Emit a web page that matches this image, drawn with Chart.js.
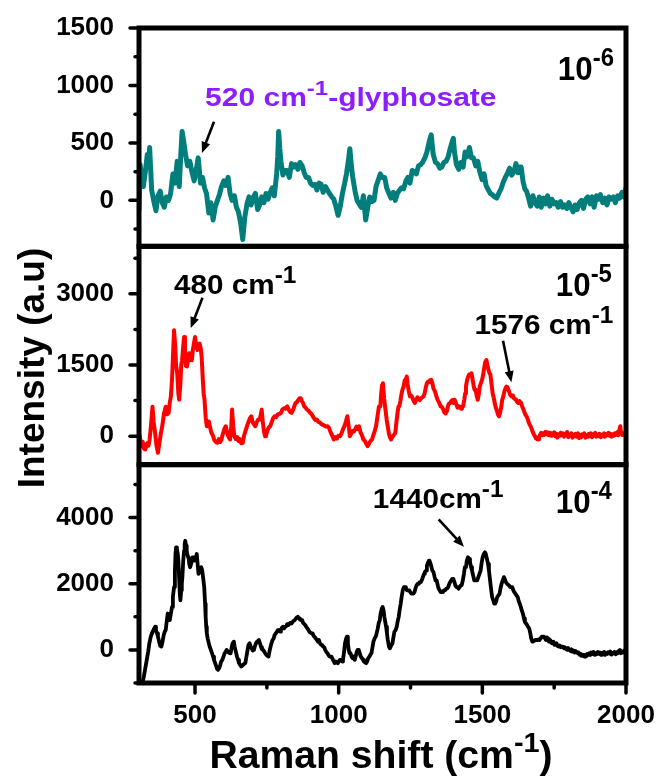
<!DOCTYPE html>
<html>
<head>
<meta charset="utf-8">
<script src="https://cdn.jsdelivr.net/npm/chart.js@4.4.1/dist/chart.umd.min.js"></script>
<style>
  html, body { margin: 0; padding: 0; background: #fff; }
  #wrap { width: 661px; height: 778px; }
</style>
</head>
<body>
<div id="wrap"><canvas id="raman" width="661" height="778"></canvas></div>
<script>
const FONT = '"Liberation Sans", Arial, sans-serif';
const TEAL = '#017e7b';
const RED = '#ff0000';
const PURPLE = '#8b1dff';

// axis ticks (minor ticks carry no label)
const xTicks = [500, 750, 1000, 1250, 1500, 1750, 2000];
const xLabels = [500, 1000, 1500, 2000];
const topTicks = [-250, 0, 250, 500, 750, 1000, 1250, 1500];
const topLabels = [0, 500, 1000, 1500];
const midTicks = [0, 750, 1500, 2250, 3000, 3750];
const midLabels = [0, 1500, 3000];
const botTicks = [-1000, 0, 1000, 2000, 3000, 4000, 5000];
const botLabels = [0, 2000, 4000];

// spectra, [Raman shift (cm-1), intensity (a.u)]
const spec6 = [
  [305, -90], [309, 310], [314, 200], [320, 120], [327, 250], [334, 400], [339, 320], [342, 460],
  [346, 250], [349, 90], [356, 0], [364, -90], [371, 40], [379, 80], [386, -20], [393, -60],
  [400, 30], [408, 0], [415, 60], [423, 230], [430, 150], [438, 340], [445, 120], [451, 420],
  [455, 600], [460, 520], [467, 400], [474, 300], [482, 340], [489, 250], [497, 170], [504, 260],
  [511, 370], [519, 150], [526, 200], [533, 110], [540, 60], [548, -110], [555, -20], [563, -170],
  [570, -60], [578, 0], [585, 50], [592, 120], [600, 170], [607, 130], [615, 200], [622, 60],
  [629, 0], [637, 40], [644, -60], [651, -100], [659, -200], [666, -340], [673, -150], [681, -30],
  [688, 30], [695, -40], [703, 30], [710, 60], [718, -80], [725, -40], [732, 30], [740, -20],
  [747, 60], [754, 10], [762, 70], [769, 110], [776, 40], [784, 230], [788, 380], [791, 600],
  [795, 450], [799, 340], [806, 220], [813, 260], [821, 260], [828, 200], [836, 320], [843, 290],
  [850, 310], [858, 270], [865, 330], [873, 300], [880, 240], [887, 200], [895, 200], [902, 150],
  [910, 130], [917, 140], [924, 90], [932, 150], [939, 140], [946, 70], [954, 120], [961, 90],
  [968, 60], [976, 30], [983, 10], [990, -50], [998, -130], [1005, -60], [1013, 60], [1020, 140],
  [1027, 230], [1033, 330], [1039, 450], [1044, 300], [1049, 200], [1057, 80], [1064, 0], [1071, -30],
  [1079, -60], [1086, 40], [1094, -170], [1101, -60], [1108, 30], [1116, -10], [1123, 0], [1130, 120],
  [1138, 180], [1145, 230], [1152, 200], [1160, 200], [1167, 110], [1175, 60], [1182, 20], [1190, 70],
  [1197, 0], [1204, 60], [1212, 90], [1219, 110], [1226, 100], [1234, 170], [1241, 200], [1248, 150],
  [1256, 260], [1263, 250], [1270, 230], [1278, 300], [1285, 310], [1292, 330], [1300, 370], [1307, 420],
  [1315, 510], [1322, 570], [1329, 400], [1337, 330], [1344, 320], [1352, 280], [1359, 290], [1366, 330],
  [1374, 340], [1381, 380], [1388, 450], [1395, 510], [1399, 540], [1403, 420], [1410, 310], [1418, 270],
  [1425, 330], [1433, 290], [1440, 420], [1447, 380], [1455, 460], [1462, 370], [1469, 370], [1477, 300],
  [1484, 340], [1491, 250], [1499, 180], [1506, 230], [1513, 130], [1521, 90], [1528, 60], [1535, 50],
  [1543, 30], [1550, 20], [1557, 60], [1565, 100], [1573, 160], [1580, 200], [1588, 240], [1595, 280],
  [1602, 220], [1610, 250], [1617, 320], [1624, 240], [1630, 290], [1635, 290], [1642, 160], [1648, 100],
  [1654, 80], [1661, 20], [1668, -50], [1676, 40], [1683, -20], [1691, -50], [1698, 30], [1705, -60],
  [1713, 20], [1720, -30], [1727, 40], [1735, -50], [1742, 10], [1750, -30], [1757, -20], [1764, -60],
  [1772, -10], [1779, -60], [1786, -40], [1794, -70], [1801, -20], [1808, -60], [1816, -100], [1823, -40],
  [1830, -80], [1838, -20], [1845, 0], [1852, -70], [1860, 10], [1867, 30], [1875, -30], [1882, 30],
  [1889, -60], [1897, 40], [1904, 10], [1911, 50], [1919, -20], [1926, 20], [1934, -40], [1941, 30],
  [1948, 10], [1956, 30], [1963, -20], [1971, 40], [1978, 20], [1986, 70], [1993, 30], [2000, 110]
];

const spec5 = [
  [305, 70], [309, -60], [312, -210], [318, -120], [322, -260], [327, -280], [333, -150], [338, -200],
  [342, -70], [347, 250], [352, 620], [356, 300], [361, 70], [366, -200], [371, -350], [376, -150],
  [381, 60], [386, 210], [392, 480], [398, 620], [403, 460], [408, 490], [412, 700], [416, 840],
  [420, 1200], [424, 1800], [427, 2230], [431, 1900], [434, 1500], [438, 1330], [442, 900], [445, 770],
  [449, 1100], [452, 1500], [455, 1600], [459, 1900], [462, 2090], [465, 1800], [468, 1480], [472, 1470],
  [476, 1600], [479, 1750], [482, 1745], [486, 1620], [489, 1600], [492, 1800], [496, 1950], [500, 2090],
  [504, 1900], [508, 1815], [512, 1900], [516, 1950], [520, 1850], [523, 1675], [527, 1200], [530, 900],
  [533, 770], [537, 400], [541, 210], [545, 250], [548, 310], [552, 200], [556, 90], [563, 0],
  [567, -80], [572, -120], [578, -140], [583, -60], [588, -120], [592, -70], [597, 50], [602, 150],
  [607, 210], [612, 60], [617, -20], [622, -70], [626, 200], [629, 560], [633, 200], [637, 0],
  [642, -60], [647, -20], [651, -100], [656, -60], [661, -150], [666, -140], [671, 20], [676, 120],
  [681, 210], [686, 300], [691, 380], [696, 420], [700, 300], [705, 250], [710, 210], [715, 300],
  [720, 350], [725, 350], [729, 450], [732, 560], [736, 300], [740, 100], [744, 0], [747, 20],
  [751, 100], [756, 180], [762, 210], [767, 300], [772, 380], [777, 420], [782, 400], [788, 460],
  [793, 470], [799, 490], [804, 560], [810, 590], [815, 580], [821, 630], [826, 560], [831, 510],
  [836, 490], [841, 550], [846, 640], [850, 700], [855, 720], [859, 760], [864, 800], [868, 800],
  [872, 740], [876, 700], [880, 630], [885, 600], [890, 560], [895, 540], [899, 500], [904, 480],
  [909, 430], [914, 380], [919, 340], [924, 350], [929, 300], [934, 290], [939, 260], [943, 240],
  [946, 240], [951, 220], [956, 200], [961, 210], [966, 180], [972, 80], [977, 20], [983, -70],
  [988, -20], [994, -50], [999, 10], [1005, 0], [1010, 60], [1015, 150], [1020, 210], [1025, 310],
  [1030, 420], [1034, 250], [1039, 0], [1044, 60], [1048, 110], [1053, 100], [1057, 140], [1062, 200],
  [1066, 150], [1071, 210], [1076, 80], [1081, 20], [1086, -70], [1091, -100], [1096, -160], [1101, -210],
  [1106, -150], [1111, -100], [1116, -70], [1121, 30], [1126, 120], [1130, 210], [1135, 420], [1140, 620],
  [1145, 630], [1148, 900], [1151, 1080], [1154, 1117], [1158, 800], [1162, 600], [1167, 350], [1171, 200],
  [1175, 50], [1179, -30], [1182, -70], [1186, -20], [1190, 10], [1194, 40], [1197, 70], [1201, 300],
  [1205, 500], [1208, 620], [1211, 630], [1215, 750], [1219, 900], [1222, 980], [1226, 1047], [1230, 1180],
  [1234, 1200], [1237, 1256], [1240, 1100], [1244, 950], [1248, 838], [1252, 860], [1256, 820], [1261, 740],
  [1265, 700], [1270, 768], [1274, 820], [1278, 790], [1282, 760], [1287, 800], [1291, 820], [1295, 838],
  [1299, 900], [1303, 1020], [1307, 1117], [1311, 1150], [1315, 1140], [1318, 1180], [1322, 1187], [1326, 1120],
  [1330, 1000], [1334, 960], [1337, 907], [1341, 820], [1345, 760], [1350, 700], [1355, 628], [1359, 620],
  [1364, 560], [1368, 500], [1372, 480], [1376, 520], [1379, 600], [1383, 680], [1388, 698], [1392, 740],
  [1396, 760], [1399, 700], [1403, 768], [1407, 720], [1410, 660], [1414, 600], [1418, 628], [1422, 620],
  [1426, 580], [1429, 600], [1433, 628], [1437, 760], [1440, 900], [1443, 1050], [1447, 1187], [1451, 1260],
  [1454, 1300], [1458, 1280], [1462, 1326], [1466, 1200], [1470, 1050], [1473, 977], [1477, 980], [1480, 860],
  [1484, 768], [1488, 900], [1491, 1050], [1495, 1120], [1499, 1187], [1503, 1300], [1506, 1420], [1510, 1560],
  [1514, 1605], [1518, 1500], [1521, 1400], [1525, 1326], [1528, 1300], [1532, 1100], [1536, 900], [1540, 800],
  [1543, 698], [1547, 600], [1551, 530], [1555, 450], [1558, 419], [1562, 500], [1566, 620], [1569, 760],
  [1573, 838], [1577, 950], [1580, 1000], [1584, 1047], [1587, 1030], [1591, 980], [1595, 900], [1598, 860],
  [1602, 838], [1606, 860], [1610, 800], [1614, 780], [1617, 768], [1621, 720], [1625, 700], [1629, 740],
  [1632, 720], [1635, 698], [1639, 620], [1643, 560], [1647, 500], [1650, 450], [1654, 419], [1658, 360],
  [1661, 300], [1665, 240], [1668, 209], [1672, 150], [1676, 80], [1679, 40], [1683, 0], [1686, -40],
  [1690, -60], [1694, -70], [1697, -20], [1701, 30], [1705, 70], [1709, 20], [1712, 60], [1716, 30],
  [1720, 90], [1724, 40], [1727, 80], [1731, 20], [1735, 70], [1739, 10], [1742, 60], [1746, 30],
  [1750, 80], [1754, 0], [1758, 50], [1761, -30], [1765, 40], [1769, 10], [1773, 70], [1777, 20],
  [1780, 60], [1784, -10], [1788, 50], [1792, 20], [1795, 90], [1799, -20], [1803, 40], [1807, 10],
  [1810, 60], [1814, -30], [1818, 30], [1822, 0], [1825, 50], [1829, -10], [1833, 60], [1837, -40],
  [1840, 30], [1844, -20], [1848, 40], [1852, 10], [1855, 60], [1859, -30], [1863, 20], [1867, -10],
  [1871, 50], [1874, 0], [1878, 60], [1882, -20], [1886, 40], [1890, 10], [1893, 70], [1897, -10],
  [1901, 30], [1905, 0], [1908, 50], [1912, -20], [1916, 30], [1920, 0], [1924, 60], [1927, -10],
  [1931, 40], [1935, 20], [1939, 70], [1942, 10], [1946, 50], [1950, -10], [1954, 40], [1957, 10],
  [1961, 60], [1965, 30], [1969, 80], [1973, 20], [1976, 110], [1980, 210], [1983, 60], [1987, 30],
  [1991, 60], [1995, 20], [2000, 50]
];

const spec4 = [
  [317, -1000], [322, -800], [327, -550], [332, -300], [337, -50], [341, 200], [346, 400], [350, 500],
  [354, 580], [358, 650], [361, 700], [364, 600], [368, 500], [371, 400], [375, 250], [379, 120],
  [383, 100], [387, 250], [391, 450], [395, 560], [398, 600], [402, 900], [405, 1100], [409, 1000],
  [412, 900], [416, 1100], [420, 1300], [423, 1600], [427, 1900], [430, 2400], [432, 2900], [434, 3100],
  [437, 3050], [440, 2900], [442, 2700], [445, 2100], [447, 1700], [449, 1500], [452, 1800], [454, 2000],
  [456, 2200], [459, 2700], [462, 3000], [464, 3200], [466, 3300], [469, 3150], [471, 3000], [473, 2900],
  [475, 2900], [478, 2750], [480, 2600], [483, 2500], [485, 2500], [488, 2650], [490, 2800], [493, 2800],
  [496, 2750], [499, 2700], [503, 2800], [506, 2900], [509, 2600], [512, 2300], [515, 2350], [518, 2400],
  [522, 2500], [525, 2400], [528, 2200], [532, 1900], [535, 1400], [537, 1000], [539, 700], [541, 500],
  [544, 350], [548, 200], [551, 100], [555, 0], [559, -100], [563, -200], [566, -300], [570, -400],
  [574, -500], [577, -580], [580, -600], [584, -550], [588, -450], [591, -350], [595, -300], [599, -200],
  [603, -100], [607, -50], [610, 0], [614, -50], [617, -80], [621, -100], [624, -100], [628, 100],
  [631, 200], [635, 250], [638, 100], [642, -50], [646, -200], [650, -300], [653, -400], [657, -450],
  [661, -500], [664, -480], [668, -450], [671, -420], [675, -400], [679, -200], [683, 0], [686, 150],
  [690, 200], [694, 100], [697, 50], [701, -20], [705, 0], [708, 100], [712, 200], [716, 250],
  [719, 280], [722, 300], [726, 200], [730, 80], [733, 20], [737, 0], [741, -50], [744, -100],
  [748, -150], [752, -180], [756, -200], [759, -50], [763, 100], [766, 200], [770, 300], [774, 350],
  [777, 450], [781, 500], [785, 550], [788, 600], [792, 600], [796, 550], [799, 620], [803, 680],
  [807, 700], [810, 650], [814, 700], [818, 720], [821, 780], [825, 750], [829, 800], [832, 820],
  [836, 800], [840, 850], [843, 880], [847, 900], [851, 950], [854, 980], [858, 1000], [862, 950],
  [865, 920], [869, 900], [873, 900], [876, 820], [880, 780], [884, 750], [887, 700], [891, 650],
  [895, 600], [898, 550], [902, 520], [906, 500], [909, 500], [913, 420], [917, 380], [920, 350],
  [924, 300], [928, 250], [931, 300], [935, 200], [939, 150], [942, 150], [946, 100], [950, 80],
  [953, 0], [957, -60], [961, -100], [964, -150], [968, -200], [972, -200], [975, -200], [979, -280],
  [983, -350], [986, -400], [990, -350], [994, -380], [997, -400], [1001, -350], [1004, -300], [1008, -300],
  [1012, -350], [1015, -300], [1019, -50], [1022, 200], [1026, 350], [1029, 400], [1032, 200], [1035, 0],
  [1038, -100], [1041, -100], [1045, -200], [1048, -250], [1052, -200], [1056, -300], [1059, -200], [1063, -50],
  [1066, 0], [1070, 0], [1073, -100], [1077, -200], [1081, -250], [1085, -300], [1088, -350], [1092, -380],
  [1096, -400], [1099, -350], [1103, -250], [1107, -200], [1110, -150], [1114, -100], [1118, 100], [1121, 250],
  [1125, 350], [1129, 400], [1132, 500], [1136, 650], [1139, 800], [1143, 900], [1146, 1100], [1150, 1250],
  [1153, 1300], [1156, 1200], [1159, 1000], [1162, 850], [1165, 700], [1168, 500], [1171, 300], [1175, 100],
  [1178, 50], [1181, 100], [1184, 150], [1187, 200], [1191, 400], [1194, 550], [1198, 600], [1202, 700],
  [1205, 850], [1209, 1000], [1212, 1200], [1216, 1400], [1219, 1600], [1223, 1800], [1227, 1900], [1231, 1900],
  [1234, 1850], [1238, 1800], [1242, 1800], [1246, 1800], [1249, 1750], [1253, 1700], [1256, 1700], [1260, 1700],
  [1264, 1750], [1267, 1850], [1271, 1950], [1275, 2000], [1279, 2000], [1282, 2050], [1286, 2050], [1289, 2100],
  [1293, 2200], [1297, 2300], [1300, 2350], [1304, 2400], [1307, 2550], [1311, 2650], [1314, 2700], [1316, 2700],
  [1320, 2600], [1323, 2500], [1326, 2400], [1330, 2350], [1334, 2200], [1337, 2100], [1341, 2100], [1345, 1950],
  [1348, 1850], [1352, 1800], [1355, 1750], [1359, 1750], [1363, 1750], [1366, 1800], [1370, 1800], [1374, 1850],
  [1377, 1850], [1381, 1900], [1385, 2000], [1388, 2050], [1392, 2100], [1395, 2150], [1399, 2150], [1403, 2050],
  [1406, 1950], [1410, 1900], [1414, 1900], [1417, 1850], [1421, 1900], [1425, 1950], [1428, 1950], [1432, 2100],
  [1436, 2300], [1439, 2500], [1443, 2500], [1446, 2700], [1450, 2800], [1454, 2750], [1457, 2650], [1461, 2500],
  [1464, 2400], [1468, 2250], [1472, 2100], [1475, 2100], [1479, 2100], [1482, 2100], [1486, 2200], [1490, 2300],
  [1494, 2400], [1497, 2600], [1501, 2800], [1505, 2900], [1509, 2950], [1512, 2900], [1516, 2750], [1520, 2600],
  [1523, 2400], [1527, 2100], [1531, 1800], [1534, 1600], [1538, 1500], [1541, 1400], [1545, 1400], [1549, 1500],
  [1552, 1600], [1556, 1650], [1560, 1700], [1563, 1850], [1567, 2000], [1571, 2100], [1575, 2200], [1578, 2150],
  [1582, 2050], [1586, 2000], [1589, 2000], [1593, 1950], [1597, 1900], [1600, 1900], [1604, 1900], [1608, 1800],
  [1611, 1750], [1615, 1700], [1619, 1650], [1623, 1600], [1626, 1500], [1630, 1400], [1634, 1300], [1637, 1200],
  [1641, 1100], [1645, 950], [1648, 850], [1652, 800], [1656, 750], [1659, 700], [1663, 650], [1667, 500],
  [1670, 350], [1674, 250], [1677, 250], [1681, 280], [1685, 300], [1688, 300], [1692, 300], [1696, 320],
  [1699, 300], [1703, 350], [1707, 400], [1710, 400], [1714, 400], [1718, 350], [1721, 300], [1725, 380],
  [1729, 330], [1732, 250], [1736, 300], [1740, 220], [1743, 200], [1747, 250], [1751, 150], [1754, 150],
  [1758, 200], [1762, 120], [1765, 100], [1769, 130], [1773, 80], [1776, 100], [1780, 100], [1784, 50],
  [1787, 80], [1791, 30], [1795, 0], [1798, 60], [1802, 0], [1806, -30], [1810, 20], [1813, -50],
  [1817, -20], [1821, -80], [1824, -30], [1828, -60], [1832, -100], [1835, -80], [1839, -150], [1843, -120],
  [1846, -180], [1850, -150], [1854, -200], [1857, -150], [1861, -200], [1865, -120], [1868, -150], [1872, -100],
  [1876, -150], [1879, -80], [1883, -120], [1887, -60], [1891, -150], [1894, -100], [1898, -130], [1902, -60],
  [1905, -120], [1909, -80], [1913, -150], [1916, -90], [1920, -110], [1924, -60], [1927, -150], [1931, -100],
  [1935, -120], [1938, -70], [1942, -110], [1946, -50], [1949, -140], [1953, -90], [1957, -110], [1960, -60],
  [1964, -130], [1968, -70], [1971, -100], [1975, -30], [1979, 0], [1982, -100], [1986, -50], [1990, -80],
  [1994, -20], [2000, -50]
];

// concentration labels, one per panel (anchored in data units of that panel)
const panelTags = [
  { axis: 'yTop', x: 1958, y: 1050, exp: '-6' },
  { axis: 'yMid', x: 1951, y: 2953, exp: '-5' },
  { axis: 'yBot', x: 1951, y: 4128, exp: '-4' }
];

// peak notes: text left/baseline + arrow tail -> tip, in data units
const peakNotes = [
  { axis: 'yTop', x: 535, y: 817, text: '520 cm', tail: '-glyphosate', color: PURPLE, size: 25, sx: 1.2,
    from: [566, 684], to: [524, 413] },
  { axis: 'yMid', x: 427, y: 2989, text: '480 cm', tail: '', color: '#000', size: 28, sx: 1.06,
    from: [526, 2918], to: [485, 2277] },
  { axis: 'yMid', x: 1473, y: 2151, text: '1576 cm', tail: '', color: '#000', size: 28, sx: 1.06,
    from: [1572, 2011], to: [1601, 1137] },
  { axis: 'yBot', x: 1119, y: 4280, text: '1440cm', tail: '', color: '#000', size: 28, sx: 1.06,
    from: [1348, 3947], to: [1436, 3119] }
];

const toPoints = (pts) => pts.map(([x, y]) => ({ x, y }));

function yAxis(min, max, ticks, labels) {
  return {
    type: 'linear',
    position: 'left',
    stack: 'panels',
    stackWeight: 1,
    min,
    max,
    grid: { display: false },
    border: { display: false },
    afterBuildTicks: (s) => { s.ticks = ticks.map((v) => ({ value: v })); },
    afterFit: (s) => {
      s.width = 139;
      s.paddingTop = 0;
      s.paddingBottom = 0;
    },
    ticks: {
      autoSkip: false,
      padding: 17,
      color: '#000',
      font: { family: FONT, size: 26, weight: 'bold' },
      callback: (v) => (labels.includes(v) ? String(v) : '')
    }
  };
}

// draws text runs with a raised superscript; sx stretches horizontally
function drawRuns(ctx, x, y, runs, align, sx) {
  sx = sx || 1;
  let w = 0;
  runs.forEach((r) => {
    ctx.font = `bold ${r.size}px ${FONT}`;
    r.w = ctx.measureText(r.t).width;
    w += r.w;
  });
  ctx.save();
  ctx.translate(align === 'right' ? x - w * sx : align === 'center' ? x - (w * sx) / 2 : x, y);
  ctx.scale(sx, 1);
  ctx.textAlign = 'left';
  ctx.textBaseline = 'alphabetic';
  let cx = 0;
  runs.forEach((r) => {
    ctx.font = `bold ${r.size}px ${FONT}`;
    ctx.fillText(r.t, cx, -(r.raise || 0));
    cx += r.w;
  });
  ctx.restore();
}

function arrow(ctx, x0, y0, x1, y1) {
  const ang = Math.atan2(y1 - y0, x1 - x0);
  const head = 11, half = 4.5;
  ctx.beginPath();
  ctx.moveTo(x0, y0);
  ctx.lineTo(x1 - Math.cos(ang) * head * 0.8, y1 - Math.sin(ang) * head * 0.8);
  ctx.lineWidth = 2.6;
  ctx.stroke();
  ctx.beginPath();
  ctx.moveTo(x1, y1);
  ctx.lineTo(x1 - Math.cos(ang) * head - Math.sin(ang) * half, y1 - Math.sin(ang) * head + Math.cos(ang) * half);
  ctx.lineTo(x1 - Math.cos(ang) * head + Math.sin(ang) * half, y1 - Math.sin(ang) * head - Math.cos(ang) * half);
  ctx.closePath();
  ctx.fill();
}

const decor = {
  id: 'decor',
  afterDraw(chart) {
    const { ctx, chartArea: a, scales } = chart;
    const xs = scales.x;
    ctx.save();
    ctx.strokeStyle = '#000';
    ctx.fillStyle = '#000';
    ctx.lineCap = 'round';

    // tick marks, outside the frame
    ctx.lineWidth = 3.5;
    [['yTop', topTicks, topLabels], ['yMid', midTicks, midLabels], ['yBot', botTicks, botLabels]]
      .forEach(([id, ticks, labels]) => {
        const s = scales[id];
        ticks.forEach((v) => {
          const py = s.getPixelForValue(v);
          const len = labels.includes(v) ? 9 : 4;
          ctx.beginPath();
          ctx.moveTo(a.left - len, py);
          ctx.lineTo(a.left, py);
          ctx.stroke();
        });
      });
    xTicks.forEach((v) => {
      const px = xs.getPixelForValue(v);
      const len = xLabels.includes(v) ? 10 : 5;
      ctx.beginPath();
      ctx.moveTo(px, a.bottom);
      ctx.lineTo(px, a.bottom + len);
      ctx.stroke();
    });

    // panel frames
    ctx.lineWidth = 5;
    ctx.lineCap = 'butt';
    ['yTop', 'yMid', 'yBot'].forEach((id) => {
      const s = scales[id];
      ctx.strokeRect(a.left, s.top, a.right - a.left, s.bottom - s.top);
    });

    // concentration tags
    panelTags.forEach((t) => {
      const s = scales[t.axis];
      drawRuns(ctx, xs.getPixelForValue(t.x), s.getPixelForValue(t.y),
        [{ t: '10', size: 34 }, { t: t.exp, size: 26, raise: 14 }], 'right', 0.92);
    });

    // peak notes with arrows
    peakNotes.forEach((n) => {
      const s = scales[n.axis];
      ctx.fillStyle = n.color;
      const runs = [{ t: n.text, size: n.size }, { t: '-1', size: n.size - 5, raise: 11 }];
      if (n.tail) runs.push({ t: n.tail, size: n.size });
      drawRuns(ctx, xs.getPixelForValue(n.x), s.getPixelForValue(n.y), runs, 'left', n.sx);
      ctx.fillStyle = '#000';
      ctx.strokeStyle = '#000';
      arrow(ctx,
        xs.getPixelForValue(n.from[0]), s.getPixelForValue(n.from[1]),
        xs.getPixelForValue(n.to[0]), s.getPixelForValue(n.to[1]));
    });

    // axis titles
    ctx.fillStyle = '#000';
    drawRuns(ctx, 381, 768,
      [{ t: 'Raman shift (cm', size: 38 }, { t: '-1', size: 28, raise: 16 }, { t: ')', size: 38 }], 'center', 1.03);
    ctx.save();
    ctx.translate(44, 368);
    ctx.rotate(-Math.PI / 2);
    drawRuns(ctx, 0, 0, [{ t: 'Intensity (a.u)', size: 37 }], 'center', 1);
    ctx.restore();

    ctx.restore();
  }
};

new Chart(document.getElementById('raman'), {
  type: 'line',
  data: {
    datasets: [
      { label: '1e-4', data: toPoints(spec4), yAxisID: 'yBot', borderColor: '#000', borderWidth: 3.8 },
      { label: '1e-5', data: toPoints(spec5), yAxisID: 'yMid', borderColor: RED, borderWidth: 4 },
      { label: '1e-6', data: toPoints(spec6), yAxisID: 'yTop', borderColor: TEAL, borderWidth: 5 }
    ]
  },
  options: {
    responsive: false,
    devicePixelRatio: 1,
    animation: false,
    events: [],
    elements: { point: { radius: 0 }, line: { tension: 0, borderJoinStyle: 'round' } },
    layout: { padding: { top: 28, right: 35, bottom: 35, left: 0 } },
    plugins: { legend: { display: false }, tooltip: { enabled: false } },
    scales: {
      x: {
        type: 'linear',
        position: 'bottom',
        min: 305,
        max: 2000,
        grid: { display: false },
        border: { display: false },
        afterBuildTicks: (s) => { s.ticks = xTicks.map((v) => ({ value: v })); },
        afterFit: (s) => {
          s.height = 60;
          s.paddingLeft = 0;
          s.paddingRight = 0;
        },
        ticks: {
          autoSkip: false,
          maxRotation: 0,
          padding: 9,
          color: '#000',
          font: { family: FONT, size: 26, weight: 'bold' },
          callback: (v) => (xLabels.includes(v) ? String(v) : '')
        }
      },
      yBot: yAxis(-1000, 5600, botTicks, botLabels),
      yMid: yAxis(-600, 4000, midTicks, midLabels),
      yTop: yAxis(-400, 1500, topTicks, topLabels)
    }
  },
  plugins: [decor]
});
</script>
</body>
</html>
